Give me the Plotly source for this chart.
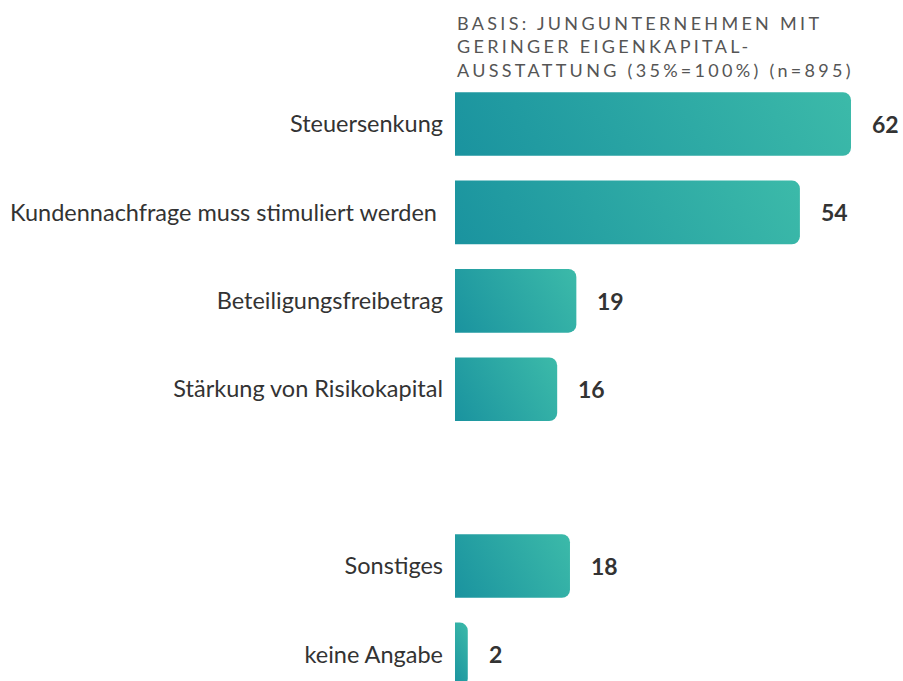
import plotly.graph_objects as go

categories = ["Steuersenkung", "Kundennachfrage muss stimuliert werden\u00a0",
              "Beteiligungsfreibetrag", "Stärkung von Risikokapital",
              "Sonstiges", "keine Angabe"]
values = [62, 54, 19, 16, 18, 2]
slots = [0, 1, 2, 3, 5, 6]  # slot 4 left empty as in the original
title_text = "BASIS: JUNGUNTERNEHMEN MIT<br>GERINGER EIGENKAPITAL-<br>AUSSTATTUNG (35%=100%) (n=895)"

FONT = "Lato"

fig = go.Figure()
fig.add_trace(go.Bar(
    x=values, y=slots, orientation="h", width=0.72,
    marker=dict(color="#2aa7a4", line=dict(width=0), cornerradius=8),
    hoverinfo="skip",
))

annotations = [dict(
    text=title_text, xref="paper", yref="paper", x=0, y=1,
    xanchor="left", yanchor="top", xshift=0, yshift=-10, align="left",
    showarrow=False, font=dict(family=FONT, size=18, color="#555555"),
)]
for v, s in zip(values, slots):
    annotations.append(dict(
        text=str(v), x=v, y=s, xref="x", yref="y", xanchor="left",
        xshift=19, showarrow=False,
        font=dict(family=FONT, size=23, color="#333333", weight="bold"),
    ))

fig.update_layout(
    width=903, height=681,
    margin=dict(l=455, r=0, t=0, b=0),
    paper_bgcolor="white", plot_bgcolor="white",
    showlegend=False,
    annotations=annotations,
    font=dict(family=FONT, size=23, color="#333333"),
    xaxis=dict(range=[0, 448 / 6.387], visible=False, fixedrange=True),
    yaxis=dict(range=[6.301, -1.403], tickvals=slots, ticktext=categories,
               showgrid=False, zeroline=False, showline=False, ticks="",
               ticklabelstandoff=11, tickfont=dict(family=FONT, size=23.5, color="#333333"),
               fixedrange=True),
)

post = """
document.body.style.margin = '0';
var gd = document.getElementById('{plot_id}');
function styleChart(){
  var svg = gd.querySelector('svg.main-svg');
  if(!svg) return;
  var ns = 'http://www.w3.org/2000/svg';
  var defs = svg.querySelector('defs');
  if(!defs){ defs = document.createElementNS(ns,'defs'); svg.insertBefore(defs, svg.firstChild); }
  var ang = 60 * Math.PI / 180;
  var dx = Math.sin(ang), dy = -Math.cos(ang);
  gd.querySelectorAll('.barlayer .point path').forEach(function(p, i){
    var b = p.getBBox();
    var cx = b.x + b.width/2, cy = b.y + b.height/2;
    var L = (Math.abs(b.width*dx) + Math.abs(b.height*dy))/2;
    var id = 'tealgrad' + i;
    var old = document.getElementById(id); if(old) old.remove();
    var g = document.createElementNS(ns,'linearGradient');
    g.setAttribute('id', id);
    g.setAttribute('gradientUnits','userSpaceOnUse');
    g.setAttribute('x1', cx - dx*L); g.setAttribute('y1', cy - dy*L);
    g.setAttribute('x2', cx + dx*L); g.setAttribute('y2', cy + dy*L);
    var s1 = document.createElementNS(ns,'stop'); s1.setAttribute('offset','0'); s1.setAttribute('stop-color','#1a939f');
    var s2 = document.createElementNS(ns,'stop'); s2.setAttribute('offset','1'); s2.setAttribute('stop-color','#3cbaa9');
    g.appendChild(s1); g.appendChild(s2); defs.appendChild(g);
    p.style.fill = 'url(#' + id + ')';
  });
  gd.querySelectorAll('.annotation[data-index="0"] text').forEach(function(t){ t.style.letterSpacing = '3.3px'; });
}
styleChart();
gd.on('plotly_afterplot', styleChart);
"""

fig.write_html("out.html", post_script=post, config={"displayModeBar": False})
